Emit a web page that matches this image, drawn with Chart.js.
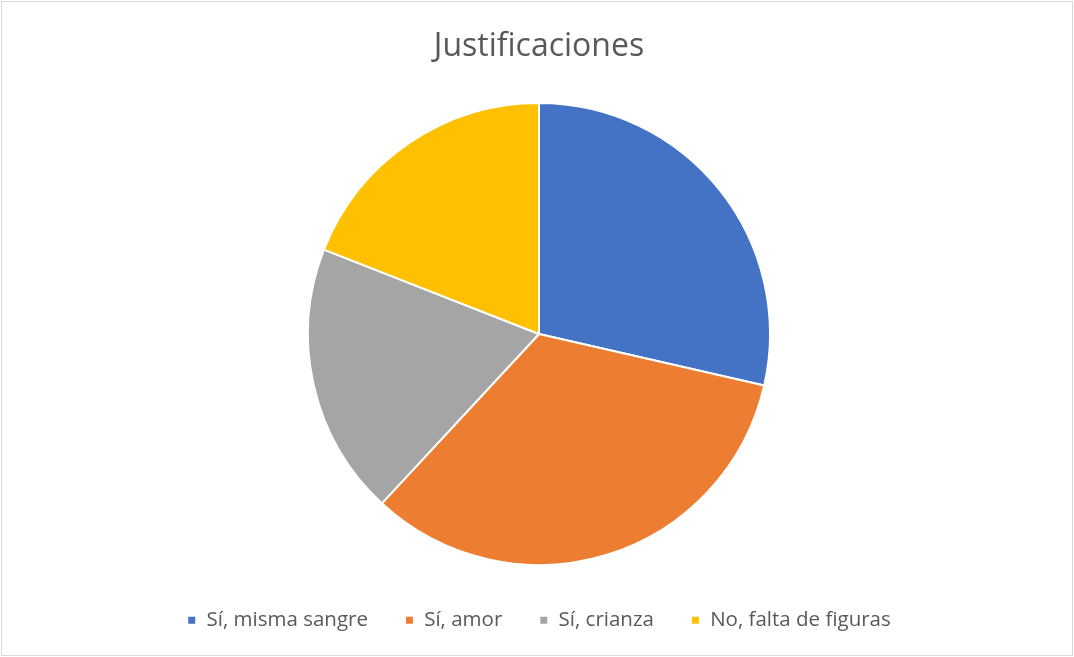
<!DOCTYPE html>
<html>
<head>
<meta charset="utf-8">
<script src="https://cdn.jsdelivr.net/npm/chart.js@4/dist/chart.umd.min.js"></script>
<style>
  body { margin: 0; background: #fff; overflow: hidden; }
  #wrap { position: relative; width: 1074px; height: 657px; }
  #frame { position: absolute; left: 1px; top: 1px; width: 1070px; height: 653px; border: 1px solid #d9d9d9; pointer-events: none; }
</style>
</head>
<body>
<div id="wrap">
  <canvas id="justificaciones"></canvas>
  <div id="frame"></div>
</div>
<script>
const categorias = ["Sí, misma sangre", "Sí, amor", "Sí, crianza", "No, falta de figuras"];
const respuestas = [6, 7, 4, 4];
const colores = ["#4472C4", "#ED7D31", "#A5A5A5", "#FFC000"];

// the legend keeps a fixed height so the pie area ends where the reference pie ends
const legendHeight = {
  id: 'legendHeight',
  afterInit(chart) {
    const legend = chart.legend;
    const fit = legend.fit;
    legend.fit = function() {
      fit.call(this);
      this.height = 91;
    };
  }
};

new Chart(document.getElementById("justificaciones"), {
  type: 'pie',
  data: {
    labels: categorias,
    datasets: [
      {
        label: "Justificaciones",
        backgroundColor: colores,
        borderColor: "#ffffff",
        borderWidth: 2,
        data: respuestas
      }
    ]
  },
  plugins: [legendHeight],
  options: {
    responsive: true,
    maintainAspectRatio: false,
    animation: false,
    layout: { padding: { left: 4, top: 0, right: 0, bottom: 0 } },
    plugins: {
      tooltip: { enabled: false },
      title: {
        display: true,
        text: 'Justificaciones',
        color: '#595959',
        font: { family: 'Open Sans', size: 32, weight: 'normal', lineHeight: 1.2 },
        padding: { top: 27.8, bottom: 35.8 }
      },
      legend: {
        position: 'bottom',
        title: { display: true, text: ' ', font: { size: 1, lineHeight: 1 }, padding: { top: 6, bottom: 0 } },
        labels: {
          color: '#595959',
          font: { family: 'Open Sans', size: 20.5 },
          boxWidth: 9,
          boxHeight: 9,
          padding: 37
        }
      }
    }
  }
});
</script>
</body>
</html>
